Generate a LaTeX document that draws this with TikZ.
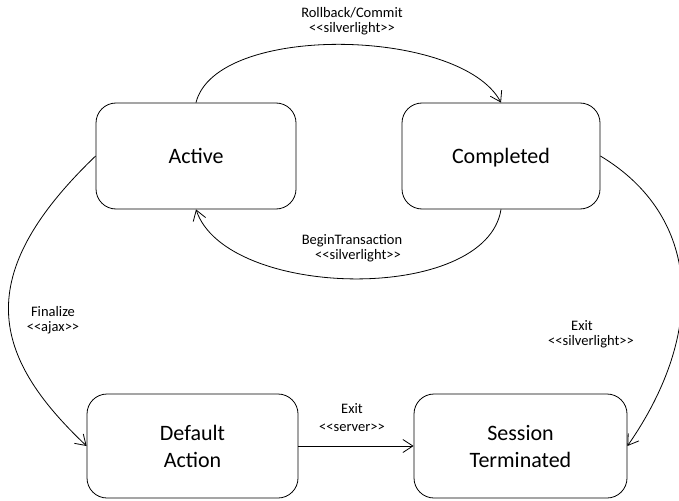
\documentclass[tikz,border=0pt]{standalone}
\usepackage{fontspec}
\setmainfont{Carlito}
\usetikzlibrary{arrows.meta}
\tikzset{
	state/.style={draw, rounded corners=20pt, align=center, text depth=0pt, font=\fontsize{22}{27}\selectfont},
	trans/.style={-{Straight Barb[length=10pt,width=13pt]}},
	guard/.style={align=center, inner sep=0pt, font=\fontsize{14.5}{15}\selectfont}
}
\newcommand{\stereo}[1]{\textless\kern0pt\textless\kern0pt #1\kern0pt\textgreater\kern0pt\textgreater}

\begin{document}
\begin{tikzpicture}[x=1pt,y=-1pt,line width=0.8pt]
	\useasboundingbox (0,0) rectangle (679,500);
	\clip (0,0) rectangle (679,500);

	\node[state, minimum width=200pt, minimum height=106pt] (active) at (196,156) {Active};
	\node[state, minimum width=198pt, minimum height=106pt] (completed) at (501,156) {Completed};
	\node[state, minimum width=211pt, minimum height=104pt] (default) at (192.5,446) {Default\\Action};
	\node[state, minimum width=213pt, minimum height=104pt] (session) at (520.5,446) {Session\\Terminated};

	\node[guard] (rollback) at (352,21.5) {Rollback/Commit\\\stereo{silverlight}};
	\node[guard] (begin) at (352,248) {BeginTransaction\\\hspace*{12pt}\stereo{silverlight}};
	\node[guard] (finalize) at (53,320) {Finalize\\\stereo{ajax}};
	\node[guard] (exitsl) at (591,334) {Exit\hbox to 18pt{}\\\stereo{silverlight}};
	\node[guard] (exitsrv) at (352,417.5) {Exit\\[3pt]\stereo{server}};

	\draw[trans] (active.north) .. controls +(20,-80) and +(-40,-75) .. (completed.north);
	\draw[trans] (completed.south) .. controls +(-15,95) and +(30,90) .. (active.south);
	\draw[trans] (active.west) .. controls +(-125,120) and +(-95,-90) .. (default.west);
	\draw[trans] (completed.east) .. controls +(100,60) and +(80,-115) .. (session.east);
	\draw[trans] (default.east) -- (session.west);
\end{tikzpicture}
\end{document}
